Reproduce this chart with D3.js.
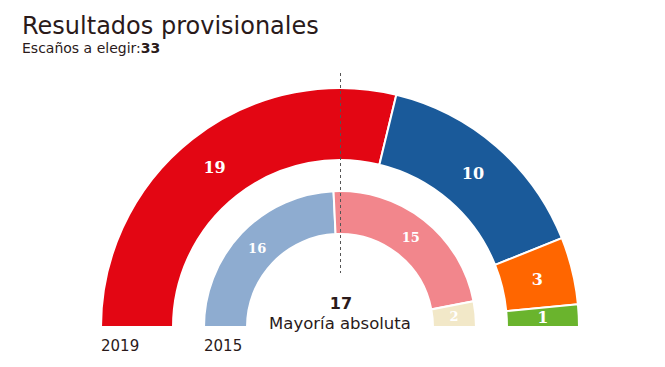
<!DOCTYPE html>
<html>
<head>
<meta charset="utf-8">
<style>
    body { margin: 0; background: #fff; }
    svg { display: block; }
    .title { font-family: 'DejaVu Sans', Verdana, sans-serif; fill: #2a1a1a; }
    .seg-label { font-family: 'DejaVu Serif', Georgia, serif; font-weight: bold; fill: #fff; }
</style>
</head>
<body>
<svg width="665" height="367"></svg>
<script src="https://d3js.org/d3.v7.min.js"></script>
<script>
    // 2019 results (outer ring)
    let seats2019 = [19, 10, 3, 1]
    let colors2019 = ["#e30613", "#1a5a9a", "#ff6600", "#6ab42d"]
    // 2015 results (inner ring)
    let seats2015 = [16, 15, 2]
    let colors2015 = ["#8eacd0", "#f2868c", "#f2e8c8"]
    let totalSeats = 33
    let majority = 17

    let svg = d3.select("svg")
    let cx = 340, cy = 327

    let pie = d3.pie().sort(null).value(d => d)
        .startAngle(-Math.PI / 2).endAngle(Math.PI / 2)

    function ring(values, colors, r0, r1, fontSize) {
        let arc = d3.arc().innerRadius(r0).outerRadius(r1)
        let g = svg.append("g").attr("transform", `translate(${cx},${cy})`)
        let arcs = pie(values)
        g.selectAll("path")
            .data(arcs)
            .join("path")
            .attr("d", arc)
            .style("fill", (d, i) => colors[i])
            .style("stroke", "#fff")
            .style("stroke-width", "2px")
        g.selectAll("text")
            .data(arcs)
            .join("text")
            .attr("class", "seg-label")
            .attr("transform", d => `translate(${arc.centroid(d)})`)
            .attr("text-anchor", "middle")
            .attr("dy", "0.35em")
            .style("font-size", fontSize + "px")
            .text(d => d.data)
    }

    ring(seats2019, colors2019, 167, 239, 16)
    ring(seats2015, colors2015, 93, 136, 13)

    // majority line
    svg.append("line")
        .attr("x1", cx + 0.5).attr("x2", cx + 0.5)
        .attr("y1", 73).attr("y2", 273)
        .style("stroke", "#555")
        .style("stroke-width", "1px")
        .style("stroke-dasharray", "3,3")

    svg.append("text")
        .attr("class", "title")
        .attr("x", 22).attr("y", 34)
        .style("font-size", "24px")
        .text("Resultados provisionales")

    let sub = svg.append("text")
        .attr("class", "title")
        .attr("x", 22).attr("y", 53)
        .style("font-size", "14px")
    sub.append("tspan").text("Escaños a elegir:")
    sub.append("tspan").style("font-weight", "bold").text(totalSeats)

    svg.append("text")
        .attr("class", "title")
        .attr("x", cx + 1).attr("y", 309)
        .attr("text-anchor", "middle")
        .style("font-size", "16px")
        .style("font-weight", "bold")
        .text(majority)

    svg.append("text")
        .attr("class", "title")
        .attr("x", cx).attr("y", 329)
        .attr("text-anchor", "middle")
        .style("font-size", "16.5px")
        .text("Mayoría absoluta")

    svg.append("text")
        .attr("class", "title")
        .attr("x", cx - 239).attr("y", 351)
        .style("font-size", "15px")
        .text("2019")

    svg.append("text")
        .attr("class", "title")
        .attr("x", cx - 136).attr("y", 351)
        .style("font-size", "15px")
        .text("2015")
</script>
</body>
</html>
